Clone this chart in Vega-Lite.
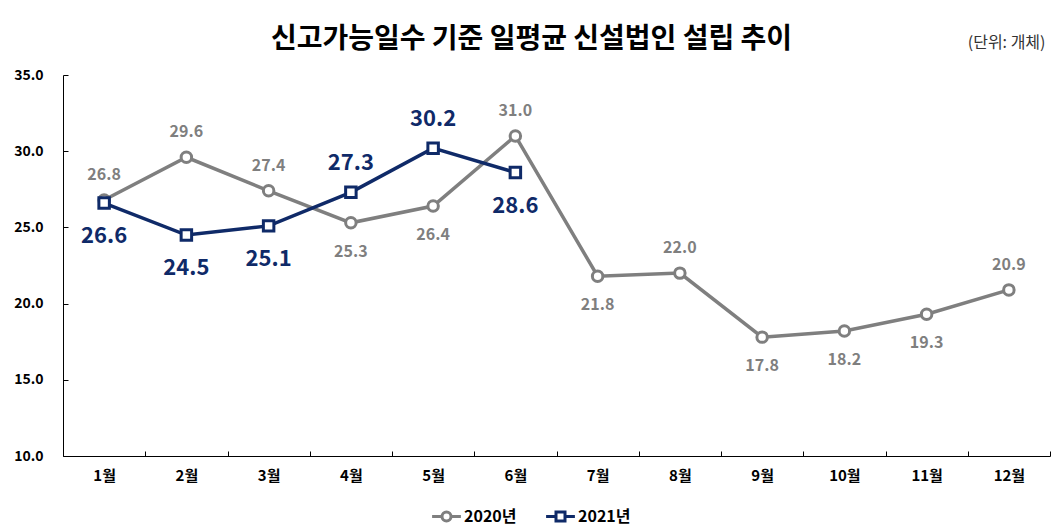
{
  "$schema": "https://vega.github.io/schema/vega-lite/v6.json",
  "width": 987,
  "height": 381,
  "autosize": {"type": "none"},
  "padding": {"left": 63, "top": 75, "right": 8, "bottom": 74},
  "background": "white",
  "config": {
    "font": "Noto Sans CJK KR",
    "view": {"stroke": null}
  },
  "title": {
    "text": "신고가능일수 기준 일평균 신설법인 설립 추이",
    "fontSize": 28,
    "fontWeight": "bold",
    "color": "#000000",
    "anchor": "middle",
    "frame": "group",
    "baseline": "alphabetic",
    "offset": 23,
    "dx": -25,
    "dy": 65
  },
  "data": {
    "values": [
      {"month": "1월", "series": "2020년", "value": 26.8},
      {"month": "2월", "series": "2020년", "value": 29.6},
      {"month": "3월", "series": "2020년", "value": 27.4},
      {"month": "4월", "series": "2020년", "value": 25.3},
      {"month": "5월", "series": "2020년", "value": 26.4},
      {"month": "6월", "series": "2020년", "value": 31.0},
      {"month": "7월", "series": "2020년", "value": 21.8},
      {"month": "8월", "series": "2020년", "value": 22.0},
      {"month": "9월", "series": "2020년", "value": 17.8},
      {"month": "10월", "series": "2020년", "value": 18.2},
      {"month": "11월", "series": "2020년", "value": 19.3},
      {"month": "12월", "series": "2020년", "value": 20.9},
      {"month": "1월", "series": "2021년", "value": 26.6},
      {"month": "2월", "series": "2021년", "value": 24.5},
      {"month": "3월", "series": "2021년", "value": 25.1},
      {"month": "4월", "series": "2021년", "value": 27.3},
      {"month": "5월", "series": "2021년", "value": 30.2},
      {"month": "6월", "series": "2021년", "value": 28.6}
    ]
  },
  "encoding": {
    "x": {
      "field": "month",
      "type": "nominal",
      "scale": {
        "type": "band",
        "paddingInner": 0,
        "paddingOuter": 0,
        "domain": ["1월", "2월", "3월", "4월", "5월", "6월", "7월", "8월", "9월", "10월", "11월", "12월"]
      },
      "axis": {
        "title": "(단위: 개체)",
        "titleFontSize": 16,
        "titleFontWeight": "normal",
        "titleColor": "#333333",
        "titleX": 982,
        "titleY": -414,
        "titleAlign": "right",
        "titleBaseline": "middle",
        "labelAngle": 0,
        "labelFontSize": 15,
        "labelFontWeight": "bold",
        "labelColor": "#000000",
        "labelPadding": 17,
        "tickBand": "extent",
        "tickSize": -5,
        "tickColor": "#000000",
        "domainColor": "#000000",
        "domainWidth": 1,
        "grid": false
      }
    },
    "y": {
      "field": "value",
      "type": "quantitative",
      "scale": {"domain": [10, 35], "nice": false, "zero": false},
      "axis": {
        "title": null,
        "values": [10, 15, 20, 25, 30, 35],
        "format": ".1f",
        "labelFontSize": 14,
        "labelFontWeight": "bold",
        "labelColor": "#000000",
        "labelPadding": 25,
        "tickSize": -5,
        "tickColor": "#000000",
        "domainColor": "#000000",
        "grid": false
      }
    }
  },
  "layer": [
    {
      "mark": {"type": "line", "strokeWidth": 3.5},
      "encoding": {
        "color": {
          "field": "series",
          "type": "nominal",
          "title": null,
          "scale": {"domain": ["2020년", "2021년"], "range": ["#7f7f7f", "#0f2a68"]},
          "legend": {
            "orient": "none",
            "direction": "horizontal",
            "legendX": 373,
            "legendY": 431,
            "labelFontSize": 16,
            "labelFontWeight": "bold",
            "labelColor": "#000000",
            "symbolSize": 324,
            "symbolStrokeWidth": 3,
            "symbolFillColor": "white",
            "symbolType": "M-1.6,0H-0.5M0.5,0H1.6M-0.5,0A0.5,0.5,0,1,1,0.5,0A0.5,0.5,0,1,1,-0.5,0Z",
            "labelOffset": 7,
            "columnPadding": 23,
            "encode": {
              "symbols": {
                "update": {
                  "shape": {"signal": "datum.value === '2020년' ? 'M-1.6,0H-0.5M0.5,0H1.6M-0.5,0A0.5,0.5,0,1,1,0.5,0A0.5,0.5,0,1,1,-0.5,0Z' : 'M-1.6,0H-0.5M0.5,0H1.6M-0.5,-0.5H0.5V0.5H-0.5Z'"},
                  "fill": {"value": "white"},
                  "strokeWidth": {"value": 3}
                }
              }
            }
          }
        }
      }
    },
    {
      "transform": [{"filter": {"field": "series", "equal": "2020년"}}],
      "mark": {"type": "point", "shape": "circle", "filled": true, "fill": "white", "stroke": "#7f7f7f", "strokeWidth": 3, "size": 110, "opacity": 1}
    },
    {
      "transform": [{"filter": {"field": "series", "equal": "2021년"}}],
      "mark": {"type": "point", "shape": "square", "filled": true, "fill": "white", "stroke": "#0f2a68", "strokeWidth": 3, "size": 110, "opacity": 1}
    },
    {
      "transform": [{"filter": {"and": [{"field": "series", "equal": "2020년"}, {"field": "month", "oneOf": ["1월", "2월", "3월", "6월", "8월", "12월"]}]}}],
      "mark": {"type": "text", "dy": -25, "fontSize": 16, "fontWeight": "bold", "color": "#7f7f7f", "baseline": "middle"},
      "encoding": {"text": {"field": "value", "type": "quantitative", "format": ".1f"}}
    },
    {
      "transform": [{"filter": {"and": [{"field": "series", "equal": "2020년"}, {"field": "month", "oneOf": ["4월", "5월", "7월", "9월", "10월", "11월"]}]}}],
      "mark": {"type": "text", "dy": 29, "fontSize": 16, "fontWeight": "bold", "color": "#7f7f7f", "baseline": "middle"},
      "encoding": {"text": {"field": "value", "type": "quantitative", "format": ".1f"}}
    },
    {
      "transform": [{"filter": {"and": [{"field": "series", "equal": "2021년"}, {"field": "month", "oneOf": ["4월", "5월"]}]}}],
      "mark": {"type": "text", "dy": -29, "fontSize": 22, "fontWeight": "bold", "color": "#0f2a68", "baseline": "middle"},
      "encoding": {"text": {"field": "value", "type": "quantitative", "format": ".1f"}}
    },
    {
      "transform": [{"filter": {"and": [{"field": "series", "equal": "2021년"}, {"field": "month", "oneOf": ["1월", "2월", "3월", "6월"]}]}}],
      "mark": {"type": "text", "dy": 33, "fontSize": 22, "fontWeight": "bold", "color": "#0f2a68", "baseline": "middle"},
      "encoding": {"text": {"field": "value", "type": "quantitative", "format": ".1f"}}
    }
  ]
}
